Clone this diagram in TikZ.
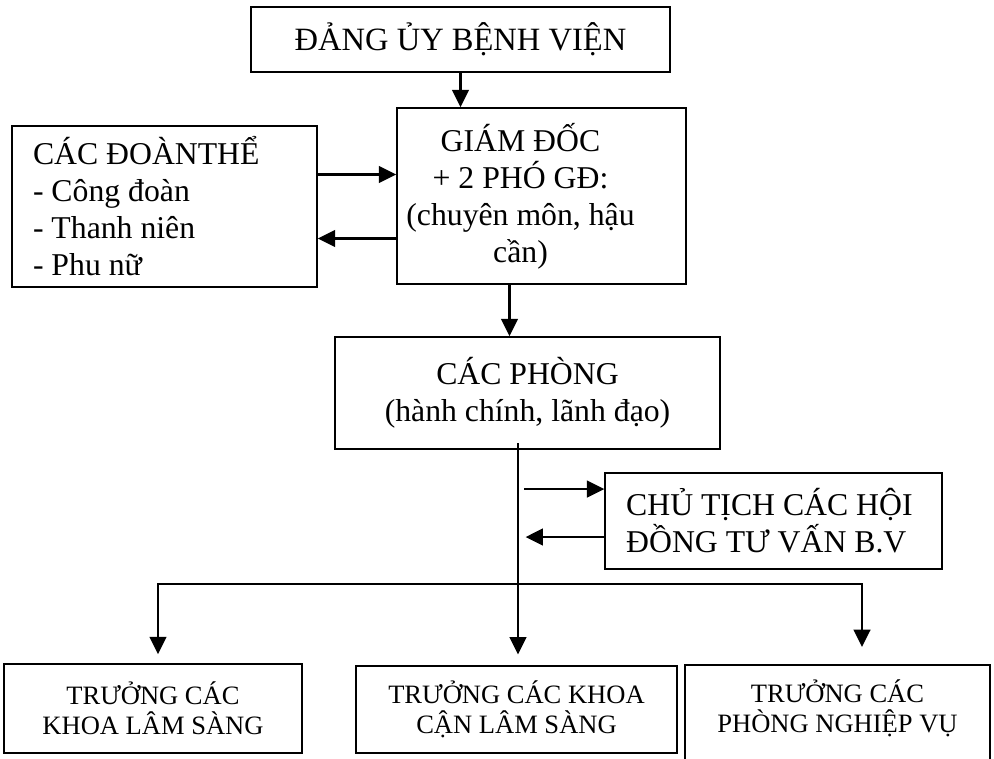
\documentclass[tikz,border=0pt]{standalone}
\usepackage{fontspec}
\setmainfont{Liberation Serif}
\usetikzlibrary{arrows.meta}

\begin{document}
\begin{tikzpicture}[x=0.75pt,y=-0.75pt,
    box/.style={draw, line width=1.3pt, inner sep=0pt, align=center,
      font=\fontsize{23.8}{27.75}\selectfont},
    smallbox/.style={box, font=\fontsize{19.9}{22.5}\selectfont},
    arr/.style={-{Triangle[length=13pt,width=12.5pt]}, line width=1.7pt}]
  \clip (0,0) rectangle (994,758);
  % top of the chart
  \node[box, minimum width=314.25pt, minimum height=48.75pt,
    font=\fontsize{24.4}{28}\selectfont] (dang) at (460.5,39.5) {ĐẢNG ỦY BỆNH VIỆN};
  \node[box, minimum width=216.75pt, minimum height=132pt] (gd) at (541.5,196) {};
  \node[box, draw=none, xshift=-15.75pt] (gdtext) at (gd)
    {GIÁM ĐỐC\\+ 2 PHÓ GĐ:\\(chuyên môn, hậu\\cần)};
  \node[box, align=flush left, text width=197.25pt, inner xsep=15.75pt,
    minimum height=120.75pt] (doanthe) at (164.5,206.5)
    {CÁC ĐOÀNTHỂ\\- Công đoàn\\- Thanh niên\\- Phu nữ};
  \node[box, minimum width=288.75pt, minimum height=84pt] (phong) at (527.5,393)
    {CÁC PHÒNG\\(hành chính, lãnh đạo)};
  \node[box, align=flush left, text width=221pt, inner xsep=15.75pt,
    minimum height=72pt] (chutich) at (773.5,521)
    {CHỦ TỊCH CÁC HỘI\\ĐỒNG TƯ VẤN B.V};
  % bottom row
  \node[smallbox, minimum width=223.5pt, minimum height=66.75pt] (ls) at (153,708.5)
    {TRƯỞNG CÁC\\KHOA LÂM SÀNG};
  \node[smallbox, minimum width=240.75pt, minimum height=65.25pt] (cls) at (516.5,709.5)
    {TRƯỞNG CÁC KHOA\\CẬN LÂM SÀNG};
  \node[smallbox, draw=none] (nv) at (837.5,708.5) {TRƯỞNG CÁC\\PHÒNG NGHIỆP VỤ};
  \draw[line width=1.3pt] (685,790) |- (990,665) -- (990,790);

  \draw[arr] (dang.south) -- (dang.south |- gd.north);
  \draw[arr] ([yshift=24pt]doanthe.east) -- ([yshift=24pt]doanthe.east -| gd.west);
  \draw[arr] ([yshift=-24pt]doanthe.east -| gd.west) -- ([yshift=-24pt]doanthe.east);
  \draw[arr] ([xshift=-24pt]gd.south) -- ([xshift=-24pt]gd.south |- phong.north);
  \draw[arr] ([yshift=24pt,xshift=-60pt]chutich.west) -- ([yshift=24pt]chutich.west);
  \draw[arr] ([yshift=-12pt]chutich.west) -- ([yshift=-12pt,xshift=-59pt]chutich.west);

  \coordinate (bar) at (518,584);
  \coordinate (bl) at (158,584);
  \coordinate (nvtip) at (862,647);
  \draw[arr, shorten >=8pt] ([yshift=5pt]phong.south -| bar) -- (bar |- cls.north);
  \draw[arr, shorten >=6.75pt] (bar) -| (bl |- ls.north);
  \draw[arr] (bar) -| (nvtip);
\end{tikzpicture}
\end{document}
